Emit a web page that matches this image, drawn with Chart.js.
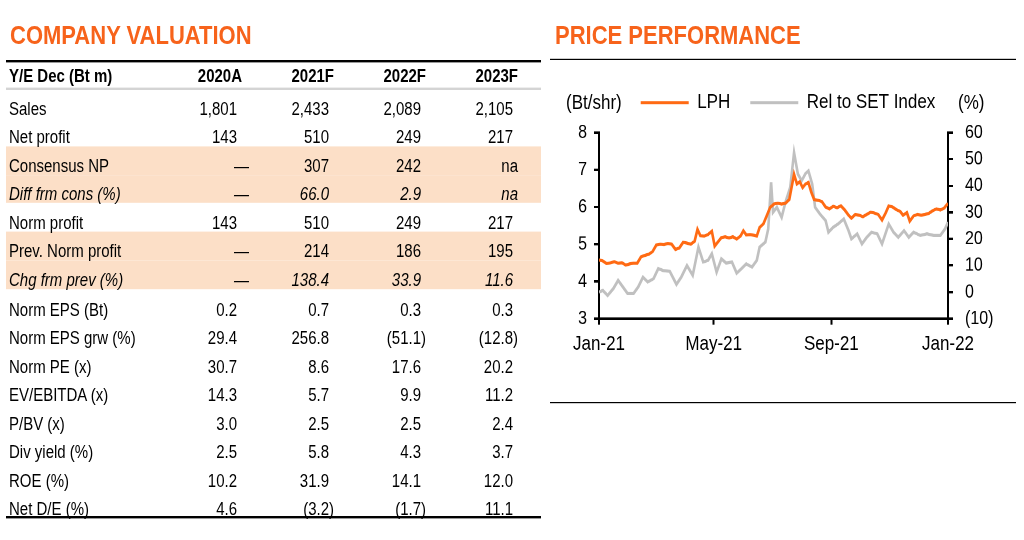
<!DOCTYPE html>
<html><head><meta charset="utf-8">
<script src="https://cdn.jsdelivr.net/npm/chart.js@4.4.1/dist/chart.umd.min.js"></script>
<style>
html,body{margin:0;padding:0;background:#fff;}
body{width:1024px;height:540px;overflow:hidden;font-family:Arial,"Liberation Sans",sans-serif;color:#000;position:relative;}
#page{position:absolute;left:0;top:0;width:1024px;height:450px;transform:scale(1,1.2);transform-origin:0 0;}
.abs{position:absolute;white-space:nowrap;}
.title{font-size:22px;font-weight:bold;color:#F7631B;line-height:22px;}
.cell{font-size:15px;line-height:15px;}
.rule{position:absolute;}
.unit{font-size:17px;line-height:17px;}
</style></head><body>
<div id="page">
  <div class="abs title" style="left:10px;top:18.6px">COMPANY VALUATION</div>
  <div class="abs title" style="left:555px;top:18.6px">PRICE PERFORMANCE</div>
  <div id="tbl"></div>
  <div class="rule" style="left:6px;top:50px;width:535px;height:1.7px;background:#000"></div>
  <div class="rule" style="left:6px;top:73.3px;width:535px;height:1.7px;background:#d4d4d4"></div>
  <div class="rule" style="left:6px;top:430px;width:535px;height:1.7px;background:#000"></div>
  <div class="rule" style="left:550px;top:49.2px;width:466px;height:1.1px;background:#000"></div>
  <div class="rule" style="left:550px;top:335.3px;width:466px;height:1.1px;background:#000"></div>
  <canvas id="c" width="470" height="250" style="position:absolute;left:550px;top:56.5px"></canvas>
  <div class="abs unit" style="left:566px;top:76.7px">(Bt/shr)</div>
  <div class="abs unit" style="left:958px;top:76.7px">(%)</div>
</div>
<script>
// ---------- Table data ----------
const headerLabel = 'Y/E Dec (Bt m)';
const columnHeaders = ['2020A','2021F','2022F','2023F'];
const rowLabels = ['Sales','Net profit','Consensus NP','Diff frm cons (%)','Norm profit','Prev. Norm profit','Chg frm prev (%)','Norm EPS (Bt)','Norm EPS grw (%)','Norm PE (x)','EV/EBITDA (x)','P/BV (x)','Div yield (%)','ROE (%)','Net D/E (%)'];
const fy2020 = ['1,801','143','—','—','143','—','—','0.2','29.4','30.7','14.3','3.0','2.5','10.2','4.6'];
const fy2021 = ['2,433','510','307','66.0','510','214','138.4','0.7','256.8','8.6','5.7','2.5','5.8','31.9','(3.2)'];
const fy2022 = ['2,089','249','242','2.9','249','186','33.9','0.3','(51.1)','17.6','9.9','2.5','4.3','14.1','(1.7)'];
const fy2023 = ['2,105','217','na','na','217','195','11.6','0.3','(12.8)','20.2','11.2','2.4','3.7','12.0','11.1'];
const shadedRows = [2,3,5,6];
const italicRows = [3,6];

// ---------- Chart data ----------
const xTickDays = [0,120,243,365];
const xTickLabels = ['Jan-21','May-21','Sep-21','Jan-22'];
const lphDays  = [0,4,8,12,16,20,24,28,32,36,40,44,48,52,56,60,64,68,72,76,80,84,88,92,96,100,103,106,110,114,118,121,124,128,132,136,140,144,148,151,154,158,162,165,168,172,176,179,183,187,191,195,199,204,207,210,213,216,219,222,225,229,233,237,241,245,249,253,257,261,264,268,272,276,280,284,288,292,296,300,303,307,311,315,318,322,325,329,333,337,341,345,349,353,357,361,365];
const lphPrice = [4.58,4.55,4.48,4.50,4.53,4.49,4.50,4.44,4.47,4.49,4.49,4.66,4.70,4.73,4.80,4.98,5.00,4.99,5.02,5.00,4.86,4.90,5.05,5.03,5.00,5.08,5.40,5.23,5.22,5.26,5.35,4.95,5.05,5.18,5.20,5.17,5.20,5.14,5.22,5.36,5.25,5.26,5.24,5.22,5.45,5.55,5.80,5.99,6.08,6.10,6.08,6.10,6.20,6.88,6.62,6.68,6.52,6.62,6.66,6.40,6.20,6.18,6.15,6.00,5.95,6.02,5.98,6.03,5.92,5.78,5.70,5.80,5.78,5.74,5.80,5.86,5.84,5.80,5.65,5.85,6.03,6.00,5.93,5.88,5.78,5.85,5.62,5.76,5.80,5.78,5.80,5.83,5.90,5.95,5.92,5.97,6.10];
const relDays = [0,4,9,15,20,25,30,36,41,46,51,57,62,67,74,81,86,92,98,104,109,114,118,123,128,133,139,144,149,154,160,165,168,174,177,180,182,186,191,195,200,204,208,212,216,219,223,226,231,237,240,245,250,256,261,264,270,275,280,285,291,296,303,308,313,319,324,329,336,343,350,357,362,365];
const relPct  = [0,0.6,-1.3,1.3,4.4,1.9,-0.6,-0.6,1.9,5.6,3.8,5.0,8.8,8.1,7.8,2.9,5.6,10.0,6.3,16.9,11.3,11.9,14.4,7.5,12.5,10.9,11.3,7.1,8.8,10.6,9.4,11.9,16.9,18.8,23.8,41.3,30.0,31.9,28.1,33.8,39.4,52.5,44.4,41.9,44.6,45.6,40.6,31.9,29.4,26.9,22.5,24.4,25.6,27.5,23.1,20.0,21.9,18.1,20.6,22.5,21.9,18.1,25.6,22.5,20.6,23.1,20.6,22.5,21.3,21.9,21.3,21.3,23.8,26.3];

// ---------- Build table ----------
const tbl = document.getElementById('tbl');
const colEdges = [242,334,426,518];
const capCenter = 7.33;
function addText(text, x, center, opts) {
  const d = document.createElement('div');
  d.className = 'abs cell';
  d.textContent = text;
  d.style.top = (center - capCenter) + 'px';
  if (opts.right) { d.style.left = (x - 200) + 'px'; d.style.width = '200px'; d.style.textAlign = 'right'; }
  else d.style.left = x + 'px';
  if (opts.bold) d.style.fontWeight = 'bold';
  if (opts.italic) d.style.fontStyle = 'italic';
  tbl.appendChild(d);
}
function rightEdge(v, edge) {
  if (v === '—') return edge + 7;
  if (/\)$/.test(v) || v === 'na') return edge;
  return edge - 5;
}
function rowCenter(i) { return 90 + i * 23.75 + (i >= 7 ? 1.25 : 0); }

shadedRows.forEach(i => {
  const b = document.createElement('div');
  b.className = 'rule';
  b.style.cssText = `left:6px;width:535px;top:${rowCenter(i) - 15.6}px;height:23.8px;background:#FCDFC7`;
  tbl.appendChild(b);
});
addText(headerLabel, 9, 62.5, {bold:true});
columnHeaders.forEach((h, c) => addText(h, colEdges[c], 62.5, {bold:true, right:true}));
const cols = [fy2020, fy2021, fy2022, fy2023];
rowLabels.forEach((lab, i) => {
  const it = italicRows.includes(i);
  const cy = rowCenter(i);
  addText(lab, 9, cy, {italic:it});
  cols.forEach((col, c) => addText(col[i], rightEdge(col[i], colEdges[c]), cy, {italic:it, right:true}));
});

// ---------- Chart ----------
Chart.defaults.font.family = 'Arial, "Liberation Sans", sans-serif';
Chart.defaults.color = '#000';
const gridCfg = {drawOnChartArea:false, drawTicks:true, tickLength:5, color:'#000', lineWidth:2};
const borderCfg = {display:true, color:'#000', width:2};
const legendGap = {
  id:'legendGap',
  beforeLayout(chart) {
    const lg = chart.legend;
    if (lg && !lg._gapPatched) {
      const f = lg.fit;
      lg.fit = function() { f.call(this); this.height += 6.5; };
      lg._gapPatched = true;
    }
  }
};
new Chart(document.getElementById('c'), {
  type:'line',
  data:{datasets:[
    {label:'LPH', data: lphDays.map((d,i)=>({x:d, y:lphPrice[i]})), borderColor:'#FF6A13', backgroundColor:'#FF6A13', borderWidth:2.6, pointRadius:0, tension:0, yAxisID:'y'},
    {label:'Rel to SET Index', data: relDays.map((d,i)=>({x:d, y:relPct[i]})), borderColor:'#C0C0C0', backgroundColor:'#C0C0C0', borderWidth:2.6, pointRadius:0, tension:0, yAxisID:'y1'}
  ]},
  options:{
    responsive:false, animation:false, devicePixelRatio:2,
    layout:{padding:{left:6, right:0, top:0, bottom:0}},
    plugins:{
      legend:{display:true, position:'top', labels:{usePointStyle:true, pointStyle:'line', pointStyleWidth:48, padding:20, color:'#000', font:{size:17}}},
      tooltip:{enabled:false}
    },
    scales:{
      x:{type:'linear', min:0, max:365,
         afterBuildTicks:s=>{ s.ticks = xTickDays.map(v=>({value:v})); },
         ticks:{autoSkip:false, maxRotation:0, padding:6, font:{size:17}, color:'#000', callback:(v,i)=>xTickLabels[i]},
         grid:gridCfg, border:borderCfg, afterFit:s=>{ s.height = 41.5; }},
      y:{position:'left', min:3, max:8,
         ticks:{stepSize:1, autoSkip:false, padding:7, font:{size:16}, color:'#000'},
         grid:gridCfg, border:borderCfg, afterFit:s=>{ s.width = 43; }},
      y1:{position:'right', min:-10, max:60,
         ticks:{stepSize:10, autoSkip:false, padding:12, font:{size:16}, color:'#000', callback:v=> v<0 ? '('+Math.abs(v)+')' : String(v)},
         grid:gridCfg, border:borderCfg, afterFit:s=>{ s.width = 72; }}
    }
  },
  plugins:[legendGap]
});
</script>
</body></html>
